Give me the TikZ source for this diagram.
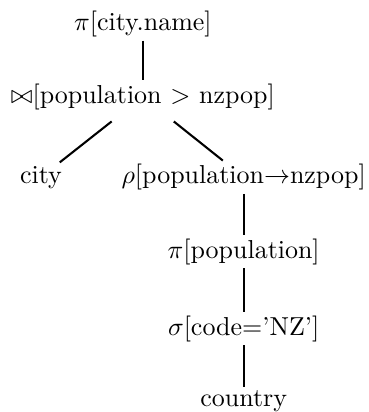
\documentclass[tikz,border=0pt]{standalone}
\usepackage{amsmath,amssymb}
\usepackage{tikz}
\usetikzlibrary{positioning}
\tikzset{
  opnode/.style={rectangle, inner sep=1.2pt, align=center},
  treeline/.style={thick, color=black},
  slantline/.style={treeline, shorten <=5pt}
}

\begin{document}
\begin{tikzpicture}
      \useasboundingbox (0,0) rectangle (4.99,5.58);
      \node[opnode] (proj) at (1.935,5.256) {$\pi$[city.name]};
      \node[opnode] (join) at (1.935,4.269) {$\bowtie$[population $>$ nzpop]};
      \node[opnode] (city) at (0.555,3.18) {city};
      \node[opnode] (rename) at (3.30,3.18) {$\rho$[population$\rightarrow$nzpop]};
      \node[opnode] (ppop) at (3.30,2.172) {$\pi$[population]};
      \node[opnode] (sel) at (3.30,1.13) {$\sigma$[code='NZ']};
      \node[opnode] (country) at (3.30,0.149) {country};
      \draw[treeline](proj)--(join); \draw[slantline](join)--(city); \draw[slantline](join)--(rename);
      \draw[treeline](rename)--(ppop); \draw[treeline](ppop)--(sel); \draw[treeline](sel)--(country);
    \end{tikzpicture}
\end{document}
